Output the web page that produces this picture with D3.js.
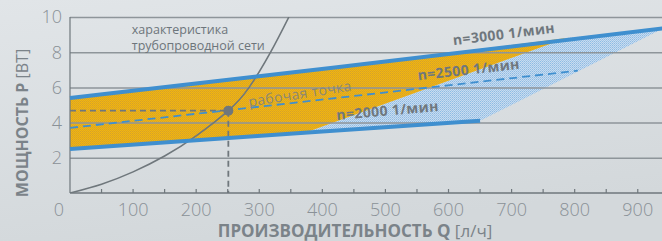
<!DOCTYPE html>
<html>
<head>
<meta charset="utf-8">
<script src="https://cdn.jsdelivr.net/npm/d3@7"></script>
<style>
  body { margin: 0; padding: 0; }
  svg { display: block; font-family: "Open Sans", sans-serif; }
</style>
</head>
<body>
<svg id="chart" width="662" height="241"></svg>
<script>
// values
var qTicks = [100, 200, 300, 400, 500, 600, 700, 800, 900];
var qMinorTicks = [50, 100, 150, 200, 250, 300, 350, 400, 450, 500, 550, 600, 650, 700, 750, 800, 850, 900];
var pTicks = [2, 4, 6, 8, 10];

var n3000Q = [0, 413, 940];
var n3000P = [5.4, 7.1, 9.35];
var n2500Q = [0, 250, 805];
var n2500P = [3.7, 4.7, 6.95];
var n2000Q = [0, 400, 650];
var n2000P = [2.5, 3.5, 4.1];

// diagonal separating the yellow and blue hatch
var splitQ = [375, 787];
var splitP = [3.45, 8.8];

var systemQ = [0, 50, 100, 150, 200, 251, 284, 318, 347];
var systemP = [0, 0.5, 1.2, 2.1, 3.25, 4.68, 6, 8, 10];

var workQ = 251, workP = 4.68;

var svg = d3.select("#chart"),
    margin = {top: 17, right: 0, bottom: 48, left: 70},
    width = +svg.attr("width") - margin.left - margin.right,
    height = +svg.attr("height") - margin.top - margin.bottom;

var textGray = "#7b8389";
var lineGray = "#6f777c";
var gridGray = "#8e959a";
var blue = "#3f8fcf";

var defs = svg.append("defs");

var bg = defs.append("linearGradient").attr("id", "bg")
  .attr("x1", 0).attr("y1", 0).attr("x2", 0.3).attr("y2", 1);
bg.append("stop").attr("offset", "0%").attr("stop-color", "#e1e5e8");
bg.append("stop").attr("offset", "100%").attr("stop-color", "#d3d8db");

var yel = defs.append("pattern").attr("id", "yel")
  .attr("patternUnits", "userSpaceOnUse").attr("width", 2).attr("height", 2);
yel.append("rect").attr("width", 2).attr("height", 2).attr("fill", "#eeb614");
yel.append("rect").attr("width", 1).attr("height", 1).attr("fill", "#d7a02a");
yel.append("rect").attr("x", 1).attr("y", 1).attr("width", 1).attr("height", 1).attr("fill", "#e3a818");

var blu = defs.append("pattern").attr("id", "blu")
  .attr("patternUnits", "userSpaceOnUse").attr("width", 2).attr("height", 2);
blu.append("rect").attr("width", 2).attr("height", 2).attr("fill", "#c9dcee");
blu.append("rect").attr("width", 1).attr("height", 1).attr("fill", "#8dbbe5");
blu.append("rect").attr("x", 1).attr("y", 1).attr("width", 1).attr("height", 1).attr("fill", "#a3c7ea");

svg.append("rect").attr("width", 662).attr("height", 241).attr("fill", "url(#bg)");

var g = svg.append("g").attr("transform", "translate(" + margin.left + "," + margin.top + ")");

var x = d3.scaleLinear().domain([0, 940]).range([0, width + 1]);
var y = d3.scaleLinear().domain([0, 10]).range([height, 0]);

var line = d3.line()
  .x(function(d) { return x(d[0]); })
  .y(function(d) { return y(d[1]); });

function pts(qs, ps) { return qs.map(function(q, i) { return [q, ps[i]]; }); }

// blue hatch: right part of the band
var bluePoly = [[splitQ[0], splitP[0]]]
  .concat(pts(n2000Q, n2000P).filter(function(d) { return d[0] > splitQ[0]; }))
  .concat([[n3000Q[n3000Q.length - 1], n3000P[n3000P.length - 1]]])
  .concat(pts(n3000Q, n3000P).filter(function(d) { return d[0] > splitQ[1]; }).reverse().slice(1))
  .concat([[splitQ[1], splitP[1]]]);
g.append("path").attr("d", line(bluePoly) + "Z").attr("fill", "url(#blu)");

// yellow hatch: left part of the band
var yellowPoly = pts(n3000Q, n3000P).filter(function(d) { return d[0] < splitQ[1]; })
  .concat([[splitQ[1], splitP[1]], [splitQ[0], splitP[0]]])
  .concat(pts(n2000Q, n2000P).filter(function(d) { return d[0] < splitQ[0]; }).reverse());
g.append("path").attr("d", line(yellowPoly) + "Z").attr("fill", "url(#yel)");

// gridlines
g.append("g")
  .call(d3.axisLeft(y).tickValues(pTicks).tickSize(-width).tickFormat(""))
  .call(function(s) { s.select(".domain").remove(); })
  .selectAll("line").attr("stroke", gridGray).attr("stroke-width", 1.5);

// y tick labels
g.selectAll(".ylab").data(pTicks).enter().append("text")
  .attr("x", -8).attr("y", function(d) { return y(d); })
  .attr("dy", "0.36em").attr("text-anchor", "end")
  .attr("fill", "#8a9197").style("font-size", "18px").style("font-weight", 300)
  .text(function(d) { return d; });

// x axis line, minor ticks and labels
g.append("line").attr("x1", 0).attr("x2", width).attr("y1", height).attr("y2", height)
  .attr("stroke", lineGray).attr("stroke-width", 1.5);
g.append("line").attr("x1", 0).attr("x2", 0).attr("y1", 0).attr("y2", height)
  .attr("stroke", lineGray).attr("stroke-width", 1.2);
g.selectAll(".mt").data(qMinorTicks).enter().append("line")
  .attr("x1", function(d) { return x(d); }).attr("x2", function(d) { return x(d); })
  .attr("y1", height).attr("y2", height - 4)
  .attr("stroke", lineGray).attr("stroke-width", 1.2);
g.selectAll(".xlab").data(qTicks).enter().append("text")
  .attr("x", function(d) { return x(d); }).attr("y", height + 23)
  .attr("text-anchor", "middle")
  .attr("fill", "#8a9197").style("font-size", "18px").style("font-weight", 300)
  .text(function(d) { return d; });
g.append("text").attr("x", x(0) - 11).attr("y", height + 23)
  .attr("text-anchor", "middle")
  .attr("fill", "#8a9197").style("font-size", "18px").style("font-weight", 300)
  .text("0");

// system curve
g.append("clipPath").attr("id", "plot").append("rect")
  .attr("width", width).attr("height", height);
g.append("path")
  .attr("d", d3.line().curve(d3.curveNatural)
    .x(function(d) { return x(d[0]); }).y(function(d) { return y(d[1]); })(pts(systemQ, systemP)))
  .attr("fill", "none").attr("stroke", lineGray).attr("stroke-width", 1.6)
  .attr("clip-path", "url(#plot)");

// working point guides
g.append("line").attr("x1", 0).attr("x2", x(workQ)).attr("y1", y(workP)).attr("y2", y(workP))
  .attr("stroke", lineGray).attr("stroke-width", 1.8).attr("stroke-dasharray", "6,4");
g.append("line").attr("x1", x(workQ)).attr("x2", x(workQ)).attr("y1", y(workP)).attr("y2", height)
  .attr("stroke", lineGray).attr("stroke-width", 1.8).attr("stroke-dasharray", "6,4");

// speed lines
g.append("path").attr("d", line(pts(n2500Q, n2500P)))
  .attr("fill", "none").attr("stroke", blue).attr("stroke-width", 1.8).attr("stroke-dasharray", "8,5");
g.append("path").attr("d", line(pts(n3000Q, n3000P)))
  .attr("fill", "none").attr("stroke", blue).attr("stroke-width", 4);
g.append("path").attr("d", line(pts(n2000Q, n2000P)))
  .attr("fill", "none").attr("stroke", blue).attr("stroke-width", 4);

g.append("circle").attr("cx", x(workQ)).attr("cy", y(workP)).attr("r", 5).attr("fill", lineGray);

// labels
var sysLab = g.append("text").attr("fill", "#6d757b").style("font-size", "12.5px");
sysLab.append("tspan").attr("x", x(98)).attr("y", y(9.05)).text("характеристика");
sysLab.append("tspan").attr("x", x(98)).attr("y", y(8.1)).text("трубопроводной сети");

function rotLabel(q, p, angle, txt, size, weight, color) {
  g.append("text")
    .attr("transform", "translate(" + x(q) + "," + y(p) + ") rotate(" + angle + ")")
    .attr("fill", color).style("font-size", size).style("font-weight", weight)
    .style("letter-spacing", "0.4px")
    .text(txt);
}
rotLabel(284, 4.9, -9, "рабочая точка", "14px", 400, "rgba(120,128,134,0.85)");
rotLabel(608, 8.4, -7, "n=3000 1/мин", "14px", 700, "#6f777d");
rotLabel(552, 6.4, -6.5, "n=2500 1/мин", "14px", 700, "#6f777d");
rotLabel(423, 4.15, -5, "n=2000 1/мин", "14px", 700, "#6f777d");

// axis titles
var xt = svg.append("text").attr("x", 355).attr("y", 237).attr("text-anchor", "middle")
  .attr("fill", textGray).style("font-size", "17px");
xt.append("tspan").style("font-weight", 700).text("ПРОИЗВОДИТЕЛЬНОСТЬ Q ");
xt.append("tspan").style("font-weight", 400).text("[л/ч]");

var yt = svg.append("text").attr("transform", "translate(28,123) rotate(-90)")
  .attr("text-anchor", "middle").attr("fill", textGray).style("font-size", "16px");
yt.append("tspan").style("font-weight", 700).text("МОЩНОСТЬ P ");
yt.append("tspan").style("font-weight", 400).text("[ВТ]");
</script>
</body>
</html>
